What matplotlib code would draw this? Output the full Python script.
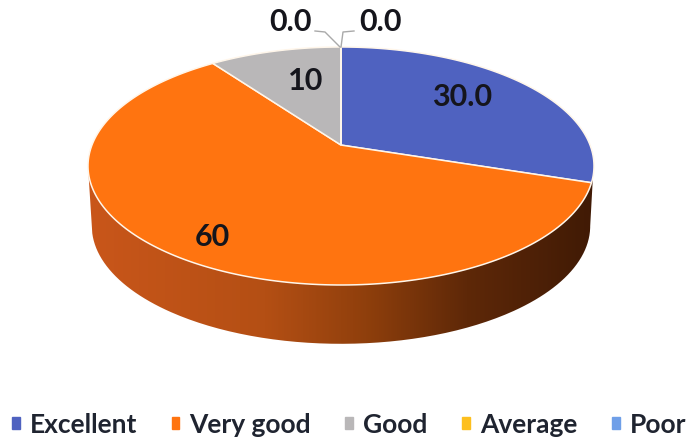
import numpy as np
import matplotlib
matplotlib.use("Agg")
import matplotlib.pyplot as plt
from matplotlib.path import Path
from matplotlib.patches import PathPatch, Patch
from matplotlib.transforms import Transform
from matplotlib.colors import LinearSegmentedColormap

categories = ["Excellent", "Very good", "Good", "Average", "Poor"]
values = [30.0, 60, 10, 0.0, 0.0]
value_labels = ["30.0", "60", "10", "0.0", "0.0"]
colors = ["#4f62c0", "#ff7410", "#b9b7b8", "#fdbf1e", "#6f9fe8"]

# pie centre and radii on the page, in pixels
CX, CY, RX, RY = 341, 166, 253, 119
DEPTH = 60
TILT = 0.176


class TiltTransform(Transform):
    # keeps the unit circle but moves its centre, like the perspective of a 3D pie
    input_dims = output_dims = 2

    def transform_non_affine(self, xy):
        xy = np.asarray(xy, dtype=float)
        w = 1 + TILT * xy[:, 1]
        return np.column_stack([xy[:, 0] * np.sqrt(1 - TILT**2) / w,
                                (xy[:, 1] + TILT) / w])

    def transform_path_non_affine(self, path):
        # sample the curves first, control points do not survive the tilt
        pts = []
        for seg, code in path.iter_bezier():
            pts.append(seg(np.linspace(0, 1, 24)))
        return Path(self.transform_non_affine(np.vstack(pts)))


def px(x, y):
    return (x - CX) / RX, (CY - y) / RY


fig = plt.figure(figsize=(6.87, 4.42), dpi=100)
ax = fig.add_axes([0, 0, 1, 1])

wedges, _ = ax.pie(values, colors=colors, startangle=90, counterclock=False,
                   wedgeprops={"edgecolor": "#fff6ea", "linewidth": 1.1, "zorder": 3})
ax.set_aspect("auto")
for w in wedges:
    w.set_transform(TiltTransform() + ax.transData)

# side wall of the pie, horizontal shading clipped to the rim
t = np.linspace(np.pi, 2 * np.pi, 200)
d = DEPTH / RY
low_x = np.cos(t) * 0.985
low_y = np.sin(t) * 0.99 - d
rim = np.column_stack([np.r_[-1, low_x, 0.995, np.cos(t[::-1]) * 0.995],
                       np.r_[0.0, low_y, -0.12, np.sin(t[::-1])]])
side_cmap = LinearSegmentedColormap.from_list(
    "side", [(0, "#c9561a"), (0.35, "#b44f14"), (0.55, "#8f3f0c"),
             (0.75, "#5e2808"), (1, "#401a05")])
img = ax.imshow(np.linspace(0, 1, 256)[None, :], cmap=side_cmap, aspect="auto",
                extent=(-1, 1, -1.6, 0.2), zorder=2)
ax.set_xlim(px(0, 0)[0], px(687, 0)[0])
ax.set_ylim(px(0, 442)[1], px(0, 0)[1])
clip = PathPatch(Path(rim), transform=ax.transData, fc="none", ec="none")
ax.add_patch(clip)
img.set_clip_path(clip)

# data labels
label_pos = [(462, 97), (212, 237), (306, 81), (290, 22), (380, 22)]
for txt, (x, y) in zip(value_labels, label_pos):
    ax.text(*px(x, y), txt, ha="center", va="center", fontsize=22, family="Lato",
            fontweight="bold", color="#15151c", zorder=5)

# leader lines of the two empty slices
for xs, ys in [((315, 325, 340), (31, 32, 47)), ((354, 343, 341), (31, 32, 47))]:
    lx, ly = zip(*[px(a, b) for a, b in zip(xs, ys)])
    ax.plot(lx, ly, color="#a9a9a9", lw=1, zorder=4)

handles = [Patch(color=c, label=n) for c, n in zip(colors, categories)]
ax.legend(handles=handles, ncol=5, loc="lower center", bbox_to_anchor=(0.508, 0.0),
          frameon=False, borderaxespad=0.1, borderpad=0.1,
          handlelength=0.3, handleheight=0.3, handletextpad=0.38,
          columnspacing=1.3, prop={"family": "Lato", "weight": "bold", "size": 19},
          labelcolor="#1f2430")

fig.savefig("out.png", dpi=100)
